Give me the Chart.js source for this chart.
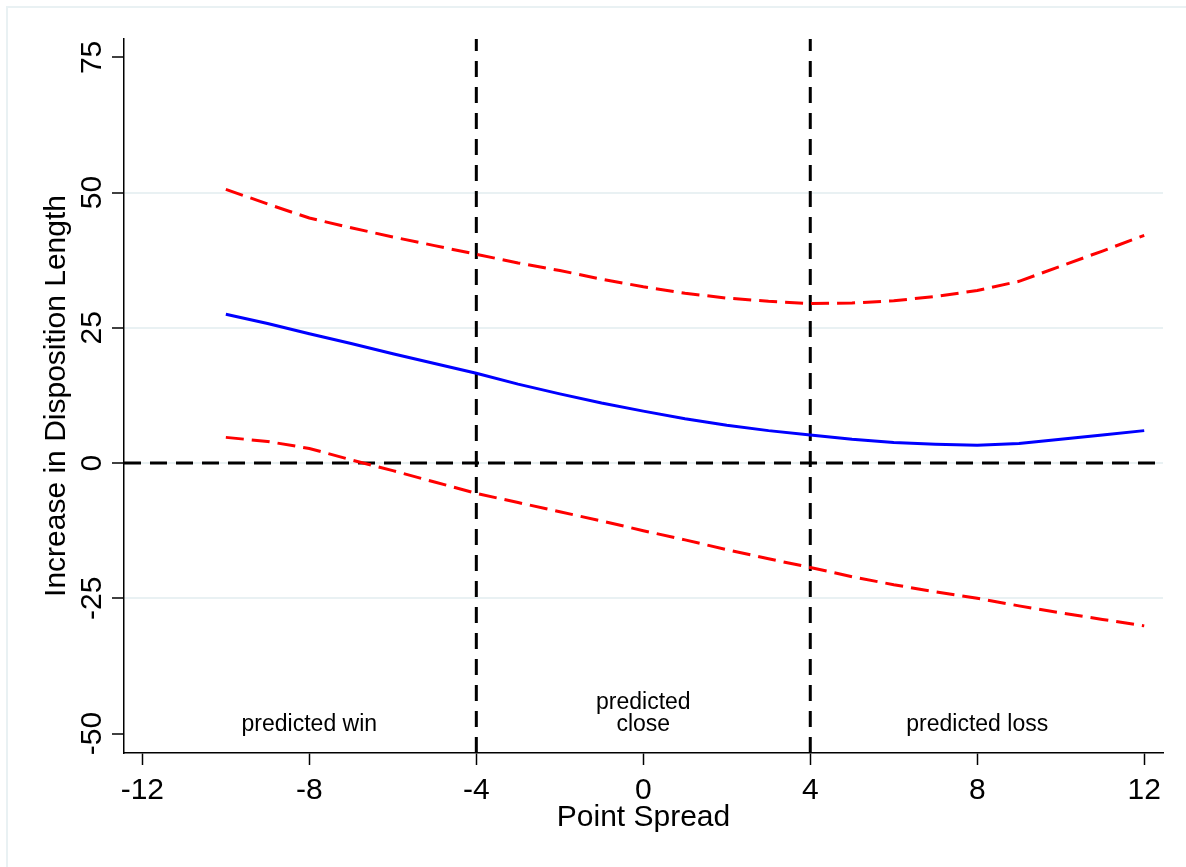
<!DOCTYPE html>
<html>
<head>
<meta charset="utf-8">
<script src="https://cdn.jsdelivr.net/npm/chart.js@4"></script>
<style>
  html, body { margin: 0; padding: 0; background: #ffffff; overflow: hidden; }
  #frame { position: absolute; left: 6px; top: 6px; width: 1400px; height: 1100px;
           border: 2px solid #e9f1f3; box-sizing: border-box; }
  #c { position: absolute; left: 0; top: 0; }
</style>
</head>
<body>
<div id="frame"></div>
<canvas id="c" width="1186" height="867"></canvas>
<script>
// ---- data ----
const pointSpread = [-10,-9,-8,-7,-6,-5,-4,-3,-2,-1,0,1,2,3,4,5,6,7,8,9,10,11,12];
const estimate    = [27.5,25.8,23.9,22.1,20.2,18.4,16.6,14.6,12.8,11.1,9.6,8.2,7.0,6.0,5.2,4.4,3.8,3.5,3.3,3.6,4.4,5.2,6.0];
const upperCI     = [50.6,47.9,45.3,43.5,41.8,40.2,38.6,37.0,35.6,34.0,32.6,31.4,30.5,29.9,29.5,29.6,30.0,30.8,31.9,33.6,36.4,39.2,42.1];
const lowerCI     = [4.75,4.0,2.7,0.6,-1.4,-3.5,-5.6,-7.3,-9.0,-10.7,-12.5,-14.2,-16.0,-17.7,-19.3,-21.0,-22.5,-23.8,-25.0,-26.4,-27.7,-28.9,-30.1];
const xTicks = [-12,-8,-4,0,4,8,12];
const yTicks = [-50,-25,0,25,50,75];
const xRange = [-12.44, 12.45];
const yRange = [-53.6, 78.4];
const vLines = [-4, 4];
const hLine = 0;
const regionLabels = [["predicted win"], ["predicted", "close"], ["predicted loss"]];
const regionX = [-8, 0, 8];
const regionY = -49.5;
const xTitle = "Point Spread";
const yTitle = "Increase in Disposition Length";

// ---- build ----
const FONT = "'Liberation Sans', Arial, Helvetica, sans-serif";
const toXY = (xs, ys) => xs.map((x, i) => ({x: x, y: ys[i]}));

const datasets = [
  { data: toXY(pointSpread, estimate), borderColor: '#0000ff', borderWidth: 3 },
  { data: toXY(pointSpread, upperCI), borderColor: '#ff0000', borderWidth: 3, borderDash: [18, 8] },
  { data: toXY(pointSpread, lowerCI), borderColor: '#ff0000', borderWidth: 3, borderDash: [18, 8] },
];
vLines.forEach(v => datasets.push({
  data: [{x: v, y: yRange[0]}, {x: v, y: yRange[1]}], borderColor: '#000000', borderWidth: 3, borderDash: [16, 10]
}));
datasets.push({
  data: [{x: xRange[0], y: hLine}, {x: xRange[1], y: hLine}], borderColor: '#000000', borderWidth: 3, borderDash: [17, 9]
});
datasets.forEach(d => { d.pointRadius = 0; d.tension = 0; d.fill = false; });

const regionLabelPlugin = {
  id: 'regionLabels',
  afterDatasetsDraw(chart) {
    const {ctx, scales: {x, y}} = chart;
    ctx.save();
    ctx.fillStyle = '#000000';
    ctx.font = "23px " + FONT;
    ctx.textAlign = 'center';
    ctx.textBaseline = 'alphabetic';
    const lh = 22;
    regionLabels.forEach((lines, i) => {
      const px = x.getPixelForValue(regionX[i]);
      const py = y.getPixelForValue(regionY);
      lines.forEach((t, j) => {
        ctx.fillText(t, px, py - (lines.length - 1 - j) * lh);
      });
    });
    ctx.restore();
  }
};

new Chart(document.getElementById('c'), {
  type: 'line',
  data: { datasets },
  plugins: [regionLabelPlugin],
  options: {
    responsive: false,
    animation: false,
    events: [],
    layout: { padding: { left: 0, top: 39, right: 23, bottom: 0 } },
    plugins: { legend: { display: false }, tooltip: { enabled: false } },
    scales: {
      x: {
        type: 'linear',
        min: xRange[0], max: xRange[1],
        afterBuildTicks: s => { s.ticks = xTicks.map(v => ({value: v})); },
        afterFit: s => { s.height = 114; },
        ticks: { color: '#000000', font: { family: FONT, size: 30 }, padding: 8,
                 maxRotation: 0, minRotation: 0, callback: v => String(v) },
        grid: { display: true, drawOnChartArea: false, drawTicks: true, tickLength: 12,
                tickColor: '#000000', tickWidth: 1.5 },
        border: { display: true, color: '#000000', width: 1.5 },
        title: { display: true, text: xTitle, color: '#000000', font: { family: FONT, size: 30 },
                 padding: { top: 0, bottom: 31 } }
      },
      y: {
        type: 'linear',
        min: yRange[0], max: yRange[1],
        afterBuildTicks: s => { s.ticks = yTicks.map(v => ({value: v})); },
        afterFit: s => { s.width = 124; },
        ticks: { color: '#000000', font: { family: FONT, size: 30 }, padding: -2,
                 minRotation: 90, maxRotation: 90, crossAlign: 'center', callback: v => String(v) },
        grid: { display: true, drawOnChartArea: true, drawTicks: true, tickLength: 12,
                tickColor: '#000000', tickWidth: 1.5, lineWidth: 2,
                color: c => (c.tick && (c.tick.value === yTicks[0] || c.tick.value === yTicks[yTicks.length - 1])) ? 'rgba(0,0,0,0)' : '#e9f1f3' },
        border: { display: true, color: '#000000', width: 1.5 },
        title: { display: true, text: yTitle, color: '#000000', font: { family: FONT, size: 30 },
                 padding: { top: 39, bottom: 0 } }
      }
    }
  }
});
</script>
</body>
</html>
